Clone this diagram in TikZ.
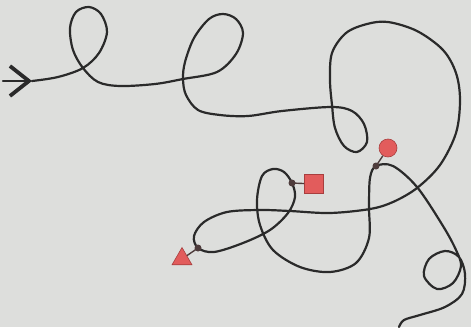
\documentclass[tikz,border=0pt]{standalone}
\usetikzlibrary{arrows.meta, shapes.geometric}
\definecolor{paper}{RGB}{221,222,220}
\definecolor{ink}{RGB}{42,42,42}
\definecolor{redfill}{RGB}{226,92,92}
\definecolor{redline}{RGB}{168,62,62}
\definecolor{pin}{RGB}{78,60,60}

\begin{document}
\begin{tikzpicture}[
  x=1pt, y=-1pt,
  curve/.style={draw=ink, line width=2.2pt, line cap=round, line join=round},
  link/.style={draw=pin, line width=1.4pt},
  pindot/.style={circle, fill=pin, inner sep=0pt, minimum size=7pt},
  redmark/.style={fill=redfill, draw=redline, line width=0.6pt, inner sep=0pt}
]

\fill[paper] (0,0) rectangle (471,327);
\useasboundingbox (0,0) rectangle (471,327);

\coordinate (start) at (3,81);
\coordinate (apex) at (32,81);
\coordinate (tridot) at (198,248);
\coordinate (boxdot) at (292,183);
\coordinate (balldot) at (376,166);

% the winding line
\draw[curve, -{Straight Barb[length=19pt, width=30pt, line width=3.8pt]}] (start) -- (apex);
\draw[curve] plot[smooth, tension=0.55] coordinates {
  (32,81) (58,77) (83,68) (99,53) (107,32) (101,14) (89,7) (76,12) (70,28) (73,50) (83,68)
  (98,82) (120,86) (155,84) (183,79) (217,72) (236,54) (243,33) (236,19) (223,14) (209,19)
  (194,38) (185,62) (183,79) (186,95) (198,110) (220,115) (248,116) (282,111) (331,107)
  (352,111) (364,124) (367,142) (357,152) (344,146) (335,128) (332,105) (330,80) (332,53)
  (346,33) (367,24) (388,22) (417,31) (443,50) (456,73) (460,100) (456,133) (440,165)
  (417,188) (393,202) (370,209) (330,213) (290,211) (260,210) (227,212) (204,222) (194,236)
  (198,248) (214,252) (243,243) (270,230) (288,213) (295,197) (292,183) (284,172) (273,169)
  (262,176) (257,200) (260,225) (273,250) (300,267) (330,272) (356,263) (369,238) (369,207)
  (370,178) (376,166) (393,166) (417,187) (443,226) (456,250) (461,266) (453,283) (437,289)
  (424,276) (429,259) (445,251) (459,257) (465,274) (462,294) (445,307) (420,315) (404,320)
  (399,327)
};

% markers
\node[redmark, circle, minimum size=18pt] (ball) at (388,148) {};
\node[redmark, rectangle, minimum size=19pt] (box) at (314,184) {};
\node[redmark, regular polygon, regular polygon sides=3, minimum size=23pt] (cone) at (182,259) {};

\draw[link] (tridot) -- (cone);
\draw[link] (boxdot) -- (box);
\draw[link] (balldot) -- (ball);

\node[pindot] at (tridot) {};
\node[pindot] at (boxdot) {};
\node[pindot] at (balldot) {};

\end{tikzpicture}
\end{document}
